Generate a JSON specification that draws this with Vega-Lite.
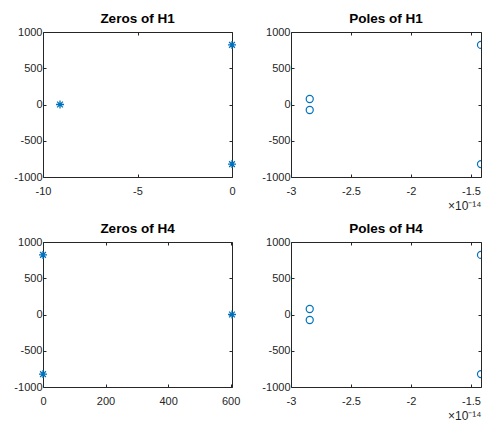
{
  "$schema": "https://vega.github.io/schema/vega-lite/v6.json",
  "background": "white",
  "padding": {"left": 13, "top": 11, "right": 0, "bottom": 2},
  "bounds": "flush",
  "spacing": {"row": 65, "column": 59},
  "columns": 2,
  "datasets": {
    "zerosH1": [{"re": -9.1, "im": 0}, {"re": 0, "im": 822}, {"re": 0, "im": -822}],
    "polesH1": [{"re": -2.844e-14, "im": 76}, {"re": -2.844e-14, "im": -76}, {"re": -1.4167e-14, "im": 822}, {"re": -1.4167e-14, "im": -822}],
    "zerosH4": [{"re": 604.5, "im": 0}, {"re": 0, "im": 822}, {"re": 0, "im": -822}],
    "polesH4": [{"re": -2.844e-14, "im": 76}, {"re": -2.844e-14, "im": -76}, {"re": -1.4167e-14, "im": 822}, {"re": -1.4167e-14, "im": -822}]
  },
  "config": {
    "font": "Liberation Sans",
    "view": {"stroke": null},
    "axis": {"grid": false, "domainColor": "#262626", "tickColor": "#262626", "labelColor": "#262626", "labelFontSize": 11, "labelFont": "Liberation Sans", "tickSize": -3, "domainWidth": 1, "tickWidth": 1, "labelFlush": false, "labelOverlap": false, "titleFontWeight": "normal", "titleColor": "#262626", "labelExpr": "replace(format(datum.value, 'd'), '−', '-')"},
    "axisX": {"labelPadding": 11},
    "axisY": {"labelPadding": 4},
    "title": {"fontSize": 13.5, "fontWeight": "bold", "font": "Liberation Sans", "color": "#000000", "offset": 1}
  },
  "concat": [
    {
      "title": "Zeros of H1",
      "width": 189, "height": 145,
      "data": {"name": "zerosH1"},
      "layer": [
        {"mark": {"type": "point", "shape": "M-1,0L1,0M0,-1L0,1M-0.72,-0.72L0.72,0.72M-0.72,0.72L0.72,-0.72", "filled": false, "color": "#0072BD", "strokeWidth": 1.3, "size": 64, "opacity": 1},
         "encoding": {
           "x": {"field": "re", "type": "quantitative", "scale": {"domain": [-10, 0], "nice": false, "zero": false}, "axis": {"title": null, "values": [-10, -5, 0]}},
           "y": {"field": "im", "type": "quantitative", "scale": {"domain": [-1000, 1000], "nice": false}, "axis": {"title": null, "values": [-1000, -500, 0, 500, 1000]}}
         }},
        {"mark": {"type": "point", "opacity": 0},
         "encoding": {
           "x": {"field": "re", "type": "quantitative", "axis": {"orient": "top", "title": null, "labels": false, "values": [-10, -5, 0]}},
           "y": {"field": "im", "type": "quantitative", "axis": {"orient": "right", "title": null, "labels": false, "values": [-1000, -500, 0, 500, 1000]}}
         }}
      ],
      "resolve": {"axis": {"x": "independent", "y": "independent"}}
    },
    {
      "title": "Poles of H1",
      "width": 190, "height": 145,
      "data": {"name": "polesH1"},
      "layer": [
        {"mark": {"type": "point", "shape": "circle", "filled": false, "color": "#0072BD", "strokeWidth": 1.2, "size": 50, "opacity": 1, "clip": true},
         "encoding": {
           "x": {"field": "re", "type": "quantitative", "scale": {"domain": [-3e-14, -1.4167e-14], "nice": false, "zero": false}, "axis": {"title": "×10⁻¹⁴", "titleAnchor": "end", "titleAlign": "right", "titleFontSize": 12, "titlePadding": 4, "values": [-3e-14, -2.5e-14, -2e-14, -1.5e-14], "labelExpr": "replace(format(datum.value*1e14, '.1~f'), '−', '-')"}},
           "y": {"field": "im", "type": "quantitative", "scale": {"domain": [-1000, 1000], "nice": false}, "axis": {"title": null, "values": [-1000, -500, 0, 500, 1000]}}
         }},
        {"mark": {"type": "point", "opacity": 0},
         "encoding": {
           "x": {"field": "re", "type": "quantitative", "axis": {"orient": "top", "title": null, "labels": false, "values": [-3e-14, -2.5e-14, -2e-14, -1.5e-14]}},
           "y": {"field": "im", "type": "quantitative", "axis": {"orient": "right", "title": null, "labels": false, "values": [-1000, -500, 0, 500, 1000]}}
         }}
      ],
      "resolve": {"axis": {"x": "independent", "y": "independent"}}
    },
    {
      "title": "Zeros of H4",
      "width": 189, "height": 145,
      "data": {"name": "zerosH4"},
      "layer": [
        {"mark": {"type": "point", "shape": "M-1,0L1,0M0,-1L0,1M-0.72,-0.72L0.72,0.72M-0.72,0.72L0.72,-0.72", "filled": false, "color": "#0072BD", "strokeWidth": 1.3, "size": 64, "opacity": 1},
         "encoding": {
           "x": {"field": "re", "type": "quantitative", "scale": {"domain": [0, 604.5], "nice": false, "zero": false}, "axis": {"title": null, "values": [0, 200, 400, 600]}},
           "y": {"field": "im", "type": "quantitative", "scale": {"domain": [-1000, 1000], "nice": false}, "axis": {"title": null, "values": [-1000, -500, 0, 500, 1000]}}
         }},
        {"mark": {"type": "point", "opacity": 0},
         "encoding": {
           "x": {"field": "re", "type": "quantitative", "axis": {"orient": "top", "title": null, "labels": false, "values": [0, 200, 400, 600]}},
           "y": {"field": "im", "type": "quantitative", "axis": {"orient": "right", "title": null, "labels": false, "values": [-1000, -500, 0, 500, 1000]}}
         }}
      ],
      "resolve": {"axis": {"x": "independent", "y": "independent"}}
    },
    {
      "title": "Poles of H4",
      "width": 190, "height": 145,
      "data": {"name": "polesH4"},
      "layer": [
        {"mark": {"type": "point", "shape": "circle", "filled": false, "color": "#0072BD", "strokeWidth": 1.2, "size": 50, "opacity": 1, "clip": true},
         "encoding": {
           "x": {"field": "re", "type": "quantitative", "scale": {"domain": [-3e-14, -1.4167e-14], "nice": false, "zero": false}, "axis": {"title": "×10⁻¹⁴", "titleAnchor": "end", "titleAlign": "right", "titleFontSize": 12, "titlePadding": 4, "values": [-3e-14, -2.5e-14, -2e-14, -1.5e-14], "labelExpr": "replace(format(datum.value*1e14, '.1~f'), '−', '-')"}},
           "y": {"field": "im", "type": "quantitative", "scale": {"domain": [-1000, 1000], "nice": false}, "axis": {"title": null, "values": [-1000, -500, 0, 500, 1000]}}
         }},
        {"mark": {"type": "point", "opacity": 0},
         "encoding": {
           "x": {"field": "re", "type": "quantitative", "axis": {"orient": "top", "title": null, "labels": false, "values": [-3e-14, -2.5e-14, -2e-14, -1.5e-14]}},
           "y": {"field": "im", "type": "quantitative", "axis": {"orient": "right", "title": null, "labels": false, "values": [-1000, -500, 0, 500, 1000]}}
         }}
      ],
      "resolve": {"axis": {"x": "independent", "y": "independent"}}
    }
  ]
}
